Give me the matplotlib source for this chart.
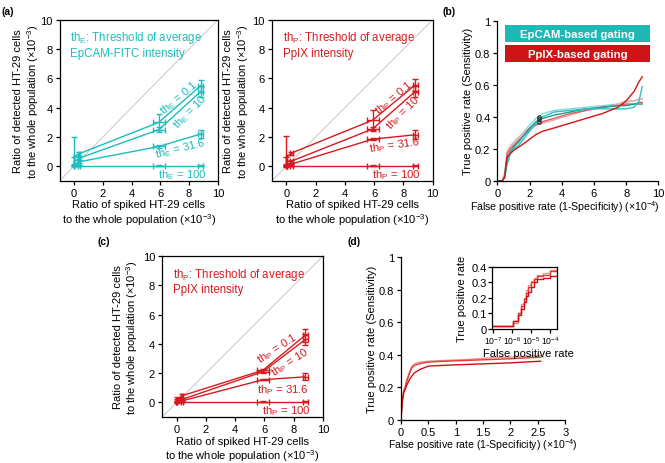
import numpy as np
import matplotlib

matplotlib.use("Agg")
import matplotlib.pyplot as plt
from matplotlib.patches import Rectangle
from matplotlib.ticker import FuncFormatter, NullLocator

plt.rcParams["font.family"] = ["Liberation Sans", "DejaVu Sans"]
plt.rcParams["mathtext.fontset"] = "custom"
plt.rcParams["mathtext.rm"] = "Liberation Sans"
plt.rcParams["mathtext.it"] = "Liberation Sans:italic"
plt.rcParams["font.size"] = 8

CYAN = "#1bbdbd"
RED = "#d81a20"

# spiked ratio (x10^-3) and its spread
spiked = [0.0, 0.35, 5.9, 8.8]
spiked_err = [0.03, 0.08, 0.42, 0.17]
thresholds = ["0.1", "10", "31.6", "100"]

# (a) EpCAM gating, detected ratio (x10^-3)
epcam_01 = [0.65, 0.85, 3.0, 5.5]
epcam_01_err = [[0.6, 0.15, 0.55, 0.4], [1.35, 0.15, 0.55, 0.4]]
epcam_10 = [0.3, 0.55, 2.5, 5.1]
epcam_10_err = [0.3, 0.12, 0.15, 0.35]
epcam_316 = [0.1, 0.3, 1.35, 2.2]
epcam_316_err = [0.05, 0.1, 0.1, 0.3]
epcam_100 = [0.05, 0.05, 0.05, 0.05]
epcam_100_err = [0.02, 0.02, 0.02, 0.02]

# (a) PpIX gating
ppix_01 = [0.6, 0.9, 3.15, 5.55]
ppix_01_err = [[0.6, 0.1, 0.7, 0.4], [1.45, 0.1, 0.7, 0.4]]
ppix_10 = [0.3, 0.35, 2.55, 5.1]
ppix_10_err = [0.3, 0.1, 0.15, 0.4]
ppix_316 = [0.05, 0.15, 1.85, 2.15]
ppix_316_err = [0.1, 0.1, 0.05, 0.3]
ppix_100 = [0.05, 0.05, 0.05, 0.05]
ppix_100_err = [0.02, 0.02, 0.02, 0.02]

# (c) PpIX gating, second run
ppix2_01 = [0.15, 0.45, 2.2, 4.6]
ppix2_01_err = [0.2, 0.15, 0.1, 0.45]
ppix2_10 = [0.1, 0.2, 2.1, 4.3]
ppix2_10_err = [0.1, 0.1, 0.1, 0.4]
ppix2_316 = [0.05, 0.1, 1.55, 1.75]
ppix2_316_err = [0.05, 0.05, 0.05, 0.25]
ppix2_100 = [0.05, 0.05, 0.05, 0.05]
ppix2_100_err = [0.02, 0.02, 0.02, 0.02]

# (b) ROC curves, FPR in x10^-4
roc_fpr = [0.1, 0.3, 0.45, 0.6, 0.8, 1.0, 1.3, 1.6, 2.0, 2.4, 2.8, 3.5, 4.5,
           5.5, 6.5, 7.5, 8.0, 8.5, 8.8, 9.0]
epcam_roc_1 = [0, 0, 0.02, 0.1, 0.17, 0.2, 0.22, 0.26, 0.31, 0.36, 0.4, 0.43,
               0.44, 0.45, 0.45, 0.45, 0.45, 0.46, 0.5, 0.59]
epcam_roc_2 = [0, 0, 0.03, 0.12, 0.18, 0.21, 0.24, 0.28, 0.33, 0.37, 0.39, 0.41,
               0.43, 0.45, 0.46, 0.47, 0.47, 0.48, 0.48, 0.48]
epcam_roc_3 = [0, 0, 0.05, 0.14, 0.2, 0.23, 0.26, 0.3, 0.35, 0.39, 0.42, 0.44,
               0.45, 0.46, 0.47, 0.48, 0.49, 0.5, 0.51, 0.51]
ppix_roc_1 = [0, 0, 0.02, 0.15, 0.17, 0.19, 0.21, 0.23, 0.26, 0.29, 0.31, 0.33,
              0.36, 0.39, 0.42, 0.46, 0.5, 0.56, 0.62, 0.65]
ppix_roc_2 = [0, 0, 0.03, 0.17, 0.2, 0.22, 0.25, 0.28, 0.32, 0.35, 0.37, 0.39,
              0.42, 0.44, 0.46, 0.47, 0.48, 0.48, 0.49, 0.49]
ppix_roc_3 = [0, 0, 0.04, 0.18, 0.22, 0.24, 0.27, 0.3, 0.33, 0.35, 0.36, 0.38,
              0.41, 0.44, 0.46, 0.48, 0.5, 0.5, 0.51, 0.51]
mark_x = [2.6, 2.6, 2.6]
mark_y = [0.37, 0.385, 0.40]

# (d) ROC curves, FPR in x10^-4
d_fpr = [0, 0.02, 0.05, 0.08, 0.1, 0.13, 0.16, 0.2, 0.25, 0.35, 0.5, 0.8, 1.2,
         1.6, 2.0, 2.55]
d_roc_1 = [0, 0.1, 0.17, 0.19, 0.21, 0.23, 0.25, 0.27, 0.29, 0.31, 0.33, 0.335,
           0.34, 0.345, 0.35, 0.36]
d_roc_2 = [0, 0.11, 0.17, 0.2, 0.23, 0.26, 0.29, 0.32, 0.335, 0.345, 0.355, 0.36,
           0.365, 0.37, 0.375, 0.385]
d_roc_3 = [0, 0.12, 0.18, 0.21, 0.24, 0.27, 0.3, 0.33, 0.345, 0.355, 0.36, 0.365,
           0.37, 0.38, 0.385, 0.395]
# (d) inset, log FPR
inset_fpr = [1e-7, 1.1e-6, 2e-6, 3e-6, 4e-6, 5.5e-6, 7e-6, 1e-5, 1.4e-5, 2e-5,
             4e-5, 1e-4, 2.2e-4]
inset_1 = [0.02, 0.05, 0.09, 0.13, 0.17, 0.21, 0.24, 0.27, 0.3, 0.32, 0.33, 0.34, 0.35]
inset_2 = [0.02, 0.05, 0.1, 0.15, 0.19, 0.23, 0.27, 0.3, 0.32, 0.34, 0.35, 0.37, 0.38]
inset_3 = [0.02, 0.04, 0.1, 0.16, 0.2, 0.25, 0.28, 0.31, 0.33, 0.35, 0.36, 0.38, 0.39]

XLAB_RATIO = "Ratio of spiked HT-29 cells\nto the whole population ($\\times$10$^{-3}$)"
YLAB_RATIO = "Ratio of detected HT-29 cells\nto the whole population ($\\times$10$^{-3}$)"
XLAB_FPR = "False positive rate (1-Specificity) ($\\times$10$^{-4}$)"
YLAB_TPR = "True positive rate (Sensitivity)"

fmt = FuncFormatter(lambda v, p: f"{v:g}")


def style(ax, box=True):
    for s in ax.spines.values():
        s.set_linewidth(0.9)
    if not box:
        ax.spines["top"].set_visible(False)
        ax.spines["right"].set_visible(False)
    ax.tick_params(direction="out", length=3, width=0.9, pad=2, labelsize=8)


def ratio_panel(ax, series, errs, color, sub, title, labels, ylab_x):
    ax.plot([-1, 10], [-1, 10], color="#c0c0c0", lw=0.6, zorder=0)
    for y, e in zip(series, errs):
        ax.errorbar(spiked, y, yerr=e, xerr=spiked_err, color=color, lw=1.0,
                    elinewidth=1.0, capsize=2, capthick=1.0)
    for (tx, ty, rot), th in zip(labels, thresholds):
        ax.text(tx, ty, "th$_{\\rm %s}$ = %s" % (sub, th), color=color, rotation=rot,
                ha="center", va="center", fontsize=8.2, rotation_mode="anchor")
    ax.text(-0.25, 9.35, title, color=color, fontsize=8.3, va="top", ha="left",
            linespacing=1.2)
    ax.set_xlim(-1, 10)
    ax.set_ylim(-1, 10)
    ax.set_xticks(range(0, 11, 2))
    ax.set_yticks(range(0, 11, 2))
    ax.set_xlabel(XLAB_RATIO, linespacing=1.15)
    ax.set_ylabel(YLAB_RATIO, linespacing=1.15)
    ax.xaxis.set_label_coords(0.5, -0.115)
    ax.yaxis.set_label_coords(ylab_x, 0.5)
    style(ax)


fig = plt.figure(figsize=(6.65, 4.64), dpi=100)

ax_a1 = fig.add_axes([0.0896, 0.608, 0.238, 0.347])
ax_a2 = fig.add_axes([0.4086, 0.608, 0.242, 0.347])
ax_b = fig.add_axes([0.748, 0.608, 0.242, 0.345])
ax_c = fig.add_axes([0.2436, 0.099, 0.242, 0.347])
ax_d = fig.add_axes([0.603, 0.093, 0.247, 0.351])
ax_in = fig.add_axes([0.740, 0.289, 0.098, 0.134])

ratio_panel(ax_a1, [epcam_01, epcam_10, epcam_316, epcam_100],
            [epcam_01_err, epcam_10_err, epcam_316_err, epcam_100_err], CYAN, "E",
            "th$_{\\rm E}$: Threshold of average\nEpCAM-FITC intensity",
            [(7.3, 4.7, 40), (8.05, 3.75, 45), (7.4, 1.25, 14), (7.5, -0.55, 0)],
            -0.12)
ratio_panel(ax_a2, [ppix_01, ppix_10, ppix_316, ppix_100],
            [ppix_01_err, ppix_10_err, ppix_316_err, ppix_100_err], RED, "P",
            "th$_{\\rm P}$: Threshold of average\nPpIX intensity",
            [(7.35, 4.75, 40), (8.0, 3.7, 45), (7.4, 1.5, 8), (7.5, -0.55, 0)],
            -0.13)
ratio_panel(ax_c, [ppix2_01, ppix2_10, ppix2_316, ppix2_100],
            [ppix2_01_err, ppix2_10_err, ppix2_316_err, ppix2_100_err], RED, "P",
            "th$_{\\rm P}$: Threshold of average\nPpIX intensity",
            [(6.9, 3.75, 33), (7.75, 2.8, 33), (7.3, 0.9, 0), (7.5, -0.55, 0)],
            -0.135)

# (b)
ax_b.plot(roc_fpr, epcam_roc_3, color="#86dada", lw=1.0)
ax_b.plot(roc_fpr, ppix_roc_3, color="#f0a8a8", lw=1.0)
ax_b.plot(roc_fpr, ppix_roc_2, color="#e05a5a", lw=1.0)
ax_b.plot(roc_fpr, epcam_roc_2, color="#1a9a9a", lw=1.0)
ax_b.plot(roc_fpr, epcam_roc_1, color="#2cc4c4", lw=1.0)
ax_b.plot(roc_fpr, ppix_roc_1, color="#d41414", lw=1.0)
ax_b.plot(mark_x, mark_y, "o", ms=2.5, mfc="none", mec="#222222", mew=0.8)
ax_b.add_patch(Rectangle((0.5, 0.865), 9.0, 0.11, color="#1cb9b5", lw=0))
ax_b.add_patch(Rectangle((0.5, 0.74), 9.0, 0.11, color="#cf1418", lw=0))
ax_b.text(5.0, 0.92, "EpCAM-based gating", color="white", weight="bold",
          ha="center", va="center", fontsize=8.2)
ax_b.text(5.0, 0.795, "PpIX-based gating", color="white", weight="bold",
          ha="center", va="center", fontsize=8.2)
ax_b.set_xlim(0, 10)
ax_b.set_ylim(0, 1)
ax_b.set_xticks(range(0, 11, 2))
ax_b.set_yticks(np.arange(0, 1.01, 0.2))
ax_b.yaxis.set_major_formatter(fmt)
ax_b.set_xlabel(XLAB_FPR, fontsize=7.6)
ax_b.set_ylabel(YLAB_TPR)
ax_b.xaxis.set_label_coords(0.42, -0.11)
ax_b.yaxis.set_label_coords(-0.15, 0.5)
style(ax_b, box=False)

# (d)
ax_d.plot(d_fpr, d_roc_3, color="#f09090", lw=1.0)
ax_d.plot(d_fpr, d_roc_2, color="#e03a3a", lw=1.0)
ax_d.plot(d_fpr, d_roc_1, color="#d01010", lw=1.0)
ax_d.set_xlim(0, 3)
ax_d.set_ylim(0, 1)
ax_d.set_xticks(np.arange(0, 3.01, 0.5))
ax_d.set_yticks(np.arange(0, 1.01, 0.2))
ax_d.xaxis.set_major_formatter(fmt)
ax_d.yaxis.set_major_formatter(fmt)
ax_d.set_xlabel(XLAB_FPR, fontsize=7.6)
ax_d.set_ylabel(YLAB_TPR)
ax_d.xaxis.set_label_coords(0.5, -0.1)
ax_d.yaxis.set_label_coords(-0.145, 0.5)
style(ax_d, box=False)

ax_in.step(inset_fpr, inset_3, where="post", color="#f09090", lw=1.0)
ax_in.step(inset_fpr, inset_2, where="post", color="#e03a3a", lw=1.0)
ax_in.step(inset_fpr, inset_1, where="post", color="#d01010", lw=1.0)
ax_in.set_xscale("log")
ax_in.set_xlim(0.9e-7, 2.3e-4)
ax_in.set_ylim(0, 0.4)
ax_in.set_xticks([1e-7, 1e-6, 1e-5, 1e-4])
ax_in.set_xticklabels(["10$^{-7}$", "10$^{-6}$", "10$^{-5}$", "10$^{-4}$"])
ax_in.xaxis.set_minor_locator(NullLocator())
ax_in.set_yticks(np.arange(0, 0.41, 0.1))
ax_in.yaxis.set_major_formatter(fmt)
ax_in.set_xlabel("False positive rate", fontsize=8)
ax_in.set_ylabel("True positive rate", fontsize=8)
ax_in.xaxis.set_label_coords(0.55, -0.3)
ax_in.yaxis.set_label_coords(-0.38, 0.5)
style(ax_in)
ax_in.tick_params(axis="x", pad=1, labelsize=6.2)
ax_in.tick_params(axis="y", pad=1, labelsize=8)

for txt, x, y in [("(a)", 0.003, 0.985), ("(b)", 0.666, 0.985),
                  ("(c)", 0.146, 0.49), ("(d)", 0.523, 0.49)]:
    fig.text(x, y, txt, weight="bold", fontsize=7.5, va="top")

fig.savefig("out.png", dpi=100)
